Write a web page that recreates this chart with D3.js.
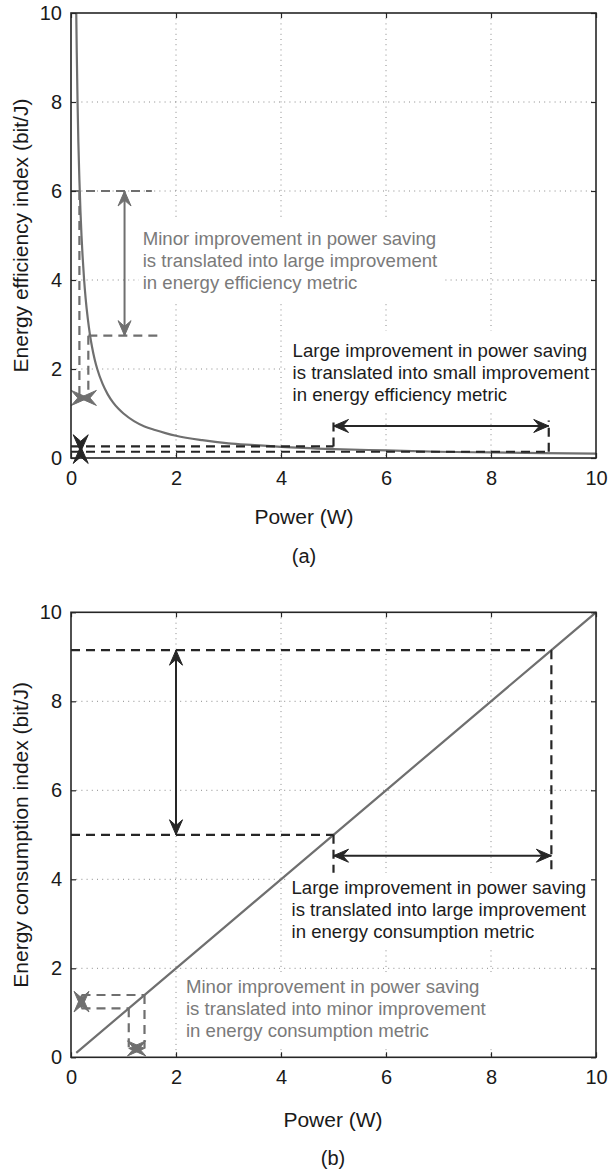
<!DOCTYPE html>
<html>
<head>
<meta charset="utf-8">
<script src="https://cdn.jsdelivr.net/npm/d3@7"></script>
<style>
  html, body { margin: 0; padding: 0; background: #fff; }
  svg { display: block; font-family: "Liberation Sans", Arial, Helvetica, sans-serif; }
</style>
</head>
<body>
<svg id="fig" width="608" height="1174"></svg>
<script>
// ---- shared ticks ----
const powerTicks = [0, 2, 4, 6, 8, 10];
const indexTicks = [0, 2, 4, 6, 8, 10];
const gridTicks = [2, 4, 6, 8];

// ---- (a) energy efficiency vs power ----
const effPower = [0.1, 0.11, 0.125, 0.14, 0.16, 0.18, 0.2, 0.22, 0.25, 0.28, 0.32, 0.36, 0.4, 0.45, 0.5,
                  0.6, 0.7, 0.8, 0.9, 1, 1.2, 1.4, 1.6, 1.8, 2, 2.5, 3, 3.5, 4, 5, 6, 7, 8, 9, 10];
const effIndex = [10, 9.1, 8, 7.1, 6.25, 5.55, 5, 4.55, 4, 3.57, 3.13, 2.78, 2.5, 2.22, 2,
                  1.67, 1.43, 1.25, 1.11, 1, 0.83, 0.71, 0.63, 0.56, 0.5, 0.4, 0.33, 0.29, 0.25, 0.2, 0.17, 0.14, 0.125, 0.11, 0.1];

// guide segments [x1, y1, x2, y2]
const effGuidesGray  = [[0, 6, 1.54, 6], [0.16, 6, 0.16, 1.35], [0.33, 2.75, 1.73, 2.75], [0.33, 2.75, 0.33, 1.35]];
const effGuidesBlack = [[0, 0.26, 5, 0.26], [5, 0.26, 5, 0.84], [0, 0.14, 9.1, 0.14], [9.1, 0.14, 9.1, 0.84]];
// double arrows [x1, y1, x2, y2]
const effArrowsGray    = [[1.02, 6, 1.02, 2.75]];
const effMarkersGray   = [[0.16, 1.35, 0.33, 1.35]];
const effArrowsBlack   = [[5, 0.72, 9.1, 0.72]];
const effMarkersBlack  = [[0.185, 0.26, 0.185, 0.14]];

const effNoteGray  = ["Minor improvement in power saving", "is translated into large improvement", "in energy efficiency metric"];
const effNoteBlack = ["Large improvement in power saving", "is translated into small improvement", "in energy efficiency metric"];
const effNoteGrayAt  = [1.366, 4.79];
const effNoteBlackAt = [4.22, 2.28];

// ---- (b) energy consumption vs power ----
const consPower = [0.1, 2, 4, 6, 8, 10];
const consIndex = [0.1, 2, 4, 6, 8, 10];

const consGuidesBlack = [[0, 9.15, 9.15, 9.15], [9.15, 9.15, 9.15, 4.15], [0, 5, 5, 5], [5, 5, 5, 4.15]];
const consGuidesGray  = [[0.2, 1.4, 1.4, 1.4], [1.4, 1.4, 1.4, 0.2], [0.2, 1.1, 1.1, 1.1], [1.1, 1.1, 1.1, 0.2]];
const consArrowsBlack  = [[2, 9.15, 2, 5], [5, 4.53, 9.15, 4.53]];
const consMarkersGray  = [[0.2, 1.4, 0.2, 1.1], [1.1, 0.2, 1.4, 0.2]];

const consNoteBlack = ["Large improvement in power saving", "is translated into large improvement", "in energy consumption metric"];
const consNoteGray  = ["Minor improvement in power saving", "is translated into minor improvement", "in energy consumption metric"];
const consNoteBlackAt = [4.2, 3.67];
const consNoteGrayAt  = [2.19, 1.44];

// ---- styles ----
const INK = "#262626";
const GREY = "#6f6f6f";
const GREY_TEXT = "#7a7a7a";
const FONT = "'Liberation Sans', Arial, Helvetica, sans-serif";

const svg = d3.select("#fig");

function panel(cfg) {
  const x = d3.scaleLinear().domain([0, 10]).range([cfg.left, cfg.right]);
  const y = d3.scaleLinear().domain([0, 10]).range([cfg.bottom, cfg.top]);
  const g = svg.append("g");

  // dotted grid
  const grid = g.append("g").attr("stroke", "#8a8a8a").attr("stroke-width", 1)
    .attr("stroke-dasharray", "1,4.2");
  grid.selectAll("line.v").data(gridTicks).join("line")
    .attr("x1", d => x(d)).attr("x2", d => x(d))
    .attr("y1", cfg.top).attr("y2", cfg.bottom);
  grid.selectAll("line.h").data(gridTicks).join("line")
    .attr("y1", d => y(d)).attr("y2", d => y(d))
    .attr("x1", cfg.left).attr("x2", cfg.right);

  // white backings for the notes (hide the grid underneath)
  const backLayer = g.append("g");
  const markLayer = g.append("g");
  const textLayer = g.append("g");

  // main curve
  const line = d3.line().x(d => x(d[0])).y(d => y(d[1])).curve(d3.curveMonotoneX);
  markLayer.append("path").datum(d3.zip(cfg.px, cfg.py))
    .attr("d", line).attr("fill", "none")
    .attr("stroke", GREY).attr("stroke-width", 2.2);

  // guides
  function guides(data, color) {
    markLayer.append("g").selectAll("line").data(data).join("line")
      .attr("x1", d => x(d[0])).attr("y1", d => y(d[1]))
      .attr("x2", d => x(d[2])).attr("y2", d => y(d[3]))
      .attr("stroke", color).attr("stroke-width", 2.2)
      .attr("stroke-dasharray", "9,6");
  }
  guides(cfg.guidesGray, GREY);
  guides(cfg.guidesBlack, INK);

  // double arrows
  function head(px, py, ang, L, W, color) {
    const c = Math.cos(ang), s = Math.sin(ang);
    const pt = (u, v) => [px + u * c - v * s, py + u * s + v * c];
    const p = [pt(0, 0), pt(-L, W / 2), pt(-0.62 * L, 0), pt(-L, -W / 2)];
    markLayer.append("path").attr("d", "M" + p.map(q => q.join(",")).join("L") + "Z")
      .attr("fill", color).attr("stroke", color).attr("stroke-width", 1).attr("stroke-linejoin", "round");
  }
  function arrows(data, color, L, W, shaft) {
    data.forEach(d => {
      const x1 = x(d[0]), y1 = y(d[1]), x2 = x(d[2]), y2 = y(d[3]);
      const ang = Math.atan2(y2 - y1, x2 - x1);
      if (shaft) {
        markLayer.append("line").attr("x1", x1).attr("y1", y1).attr("x2", x2).attr("y2", y2)
          .attr("stroke", color).attr("stroke-width", 2);
      }
      head(x2, y2, ang, L, W, color);
      head(x1, y1, ang + Math.PI, L, W, color);
    });
  }
  arrows(cfg.arrowsGray, GREY, 15, 13, true);
  arrows(cfg.markersGray, GREY, 17, 15, false);
  arrows(cfg.arrowsBlack, INK, 15, 13, true);
  arrows(cfg.markersBlack, INK, 17, 15, false);

  // text notes
  function note(lines, at, color) {
    const bg = backLayer.append("rect").attr("fill", "#fff");
    const t = textLayer.append("text").attr("font-size", 18.6).attr("fill", color);
    const x0 = x(at[0]), y0 = y(at[1]);
    lines.forEach((s, i) => {
      t.append("tspan").attr("x", x0).attr("y", y0 + i * cfg.lineGap).text(s);
    });
    const bb = t.node().getBBox();
    bg.attr("x", bb.x - 4).attr("y", y0 - cfg.padTop)
      .attr("width", bb.width + 11)
      .attr("height", (lines.length - 1) * cfg.lineGap + cfg.padTop + 12);
  }
  note(cfg.noteGray, cfg.noteGrayAt, GREY_TEXT);
  note(cfg.noteBlack, cfg.noteBlackAt, "#1c1c1c");

  // frame and inward ticks
  const axG = g.append("g");
  axG.append("g").attr("transform", `translate(0,${cfg.bottom})`)
    .call(d3.axisBottom(x).tickValues(powerTicks).tickFormat(d3.format("d"))
      .tickSizeInner(-5).tickSizeOuter(0).tickPadding(13));
  axG.append("g").attr("transform", `translate(${cfg.left},0)`)
    .call(d3.axisLeft(y).tickValues(indexTicks).tickFormat(d3.format("d"))
      .tickSizeInner(-5).tickSizeOuter(0).tickPadding(9));
  axG.append("g").attr("transform", `translate(0,${cfg.top})`)
    .call(d3.axisTop(x).tickValues(powerTicks).tickFormat("").tickSizeInner(-5).tickSizeOuter(0));
  axG.append("g").attr("transform", `translate(${cfg.right},0)`)
    .call(d3.axisRight(y).tickValues(indexTicks).tickFormat("").tickSizeInner(-5).tickSizeOuter(0));
  axG.selectAll(".domain").remove();
  axG.selectAll(".tick line").attr("stroke", INK).attr("stroke-width", 1.2);
  axG.selectAll(".tick text").attr("fill", "#1a1a1a")
    .attr("font-size", 20).attr("font-family", FONT);
  g.append("rect").attr("x", cfg.left).attr("y", cfg.top)
    .attr("width", cfg.right - cfg.left).attr("height", cfg.bottom - cfg.top)
    .attr("fill", "none").attr("stroke", INK).attr("stroke-width", 1.6);

  // titles
  g.append("text").attr("x", cfg.xTitleX).attr("y", cfg.xTitleY)
    .attr("text-anchor", "middle").attr("font-size", 21).attr("fill", "#1a1a1a")
    .text("Power (W)");
  g.append("text")
    .attr("transform", `translate(28,${(cfg.top + cfg.bottom) / 2}) rotate(-90)`)
    .attr("text-anchor", "middle").attr("font-size", 21).attr("fill", "#1a1a1a")
    .text(cfg.yTitle);
  g.append("text").attr("x", cfg.xTitleX).attr("y", cfg.tagY)
    .attr("text-anchor", "middle").attr("font-size", 20).attr("fill", "#1a1a1a")
    .text(cfg.tag);
}

panel({
  left: 71, right: 596, top: 13, bottom: 458,
  px: effPower, py: effIndex,
  guidesGray: effGuidesGray, guidesBlack: effGuidesBlack,
  arrowsGray: effArrowsGray, markersGray: effMarkersGray,
  arrowsBlack: effArrowsBlack, markersBlack: effMarkersBlack,
  noteGray: effNoteGray, noteGrayAt: effNoteGrayAt,
  noteBlack: effNoteBlack, noteBlackAt: effNoteBlackAt,
  lineGap: 22.2, padTop: 26,
  xTitleX: 304, xTitleY: 524, tagY: 563,
  yTitle: "Energy efficiency index (bit/J)", tag: "(a)"
});

panel({
  left: 71, right: 596, top: 612.3, bottom: 1057.3,
  px: consPower, py: consIndex,
  guidesGray: consGuidesGray, guidesBlack: consGuidesBlack,
  arrowsGray: [], markersGray: consMarkersGray,
  arrowsBlack: consArrowsBlack, markersBlack: [],
  noteGray: consNoteGray, noteGrayAt: consNoteGrayAt,
  noteBlack: consNoteBlack, noteBlackAt: consNoteBlackAt,
  lineGap: 22, padTop: 21,
  xTitleX: 333, xTitleY: 1127, tagY: 1165,
  yTitle: "Energy consumption index (bit/J)", tag: "(b)"
});
</script>
</body>
</html>
